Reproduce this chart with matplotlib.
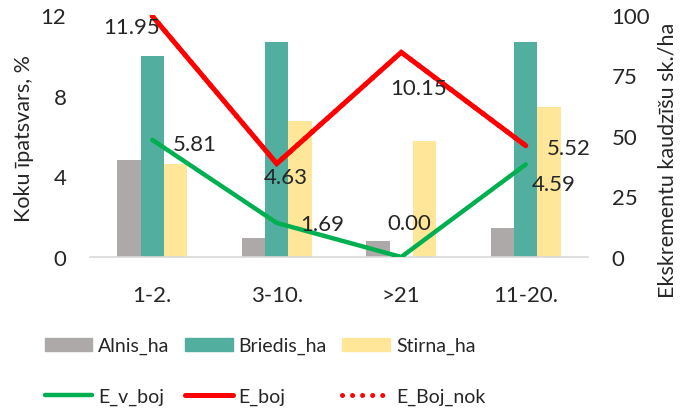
import matplotlib
matplotlib.use("Agg")
import matplotlib.pyplot as plt
import numpy as np
from matplotlib.lines import Line2D
from matplotlib.patches import Patch

plt.rcParams['font.family'] = ['Lato', 'DejaVu Sans']

categories = ["1-2.", "3-10.", ">21", "11-20."]

# Dung piles per hectare (right axis)
alnis_ha = [40, 8, 6.5, 12]
briedis_ha = [83, 89, 0, 89]
stirna_ha = [38.5, 56, 48, 62]

# Share of damaged trees, % (left axis)
e_v_boj = [5.81, 1.69, 0.00, 4.59]
e_boj = [11.95, 4.63, 10.15, 5.52]
e_boj_nok = [11.95, 4.63, 10.15, 5.52]

text_col = "#262626"
fs = 16
leg_fs = 14
dot_style = (0, (0.01, 2.0))

fig = plt.figure(figsize=(6.83, 4.10), dpi=100)
ax = fig.add_axes([90 / 683, 152 / 410, 498 / 683, 242 / 410])
ax2 = ax.twinx()
x = np.arange(len(categories))
w = 0.188

ax.bar(x - w, alnis_ha, w, color="#ADA9A8", label="Alnis_ha")
ax.bar(x, briedis_ha, w, color="#52AE9F", label="Briedis_ha")
ax.bar(x + w, stirna_ha, w, color="#FFE699", label="Stirna_ha")
ax.set_ylim(0, 100)
ax.set_xlim(-0.5, len(categories) - 0.5)
ax.set_yticks([0, 25, 50, 75, 100])
ax.set_xticks(x)
ax.set_xticklabels(categories)

ax2.set_ylim(0, 12)
ax2.set_yticks([0, 4, 8, 12])

ax.yaxis.tick_right()
ax2.yaxis.tick_left()

ax2.plot(x, e_v_boj, color="#00B050", lw=3.2, solid_capstyle="round", solid_joinstyle="miter")
ax2.plot(x, e_boj, color="#FF0000", lw=3.6, solid_capstyle="round", solid_joinstyle="miter")
ax2.plot(x, e_boj_nok, color="#FF0000", lw=3.6, linestyle=dot_style,
         dash_capstyle="round")

for a in (ax, ax2):
    for s in a.spines.values():
        s.set_visible(False)
    a.tick_params(length=0, labelsize=fs, colors=text_col)
ax.spines["bottom"].set_visible(True)
ax.spines["bottom"].set_color("#D9D9D9")
ax.spines["bottom"].set_linewidth(1.2)
ax.tick_params(axis="y", pad=17)
ax.tick_params(axis="x", pad=20)
ax2.tick_params(axis="y", pad=17)
ax.set_zorder(1)
ax2.set_zorder(2)
ax.patch.set_visible(False)

# Value labels for the damage lines
label_offsets = {
    "v": [(43, -4), (45, -1), (8, 34), (28, -20)],
    "b": [(-21, -11), (9, -13), (17, -36), (43, -2)],
}
for vals, key in ((e_v_boj, "v"), (e_boj, "b")):
    for xi, v, off in zip(x, vals, label_offsets[key]):
        ax2.annotate(f"{v:.2f}", (xi, v), xytext=off, textcoords="offset pixels",
                     ha="center", va="center", fontsize=fs, color=text_col,
                     annotation_clip=False)

fig.text(24 / 683, 1 - 138 / 410, "Koku īpatsvars, %", rotation=90,
         ha="center", va="center", fontsize=15.5, color=text_col)
fig.text(668 / 683, 1 - 160 / 410, "Ekskrementu kaudzīšu sk./ha", rotation=90,
         ha="center", va="center", fontsize=15.5, color=text_col)

handles = [
    Patch(color="#ADA9A8", label="Alnis_ha"),
    Line2D([], [], color="#00B050", lw=3.2, solid_capstyle="round", label="E_v_boj"),
    Patch(color="#52AE9F", label="Briedis_ha"),
    Line2D([], [], color="#FF0000", lw=3.6, solid_capstyle="round", label="E_boj"),
    Patch(color="#FFE699", label="Stirna_ha"),
    Line2D([], [], color="#FF0000", lw=3.6, linestyle=dot_style,
           dash_capstyle="round", label="E_Boj_nok"),
]
fig.legend(handles=handles, ncol=3, loc="center", bbox_to_anchor=(265 / 683, 1 - 372 / 410),
           frameon=False, fontsize=leg_fs, handlelength=2.45, handletextpad=0.3,
           columnspacing=0.8, labelspacing=1.7, labelcolor=text_col)

fig.savefig("out.png", dpi=100)
